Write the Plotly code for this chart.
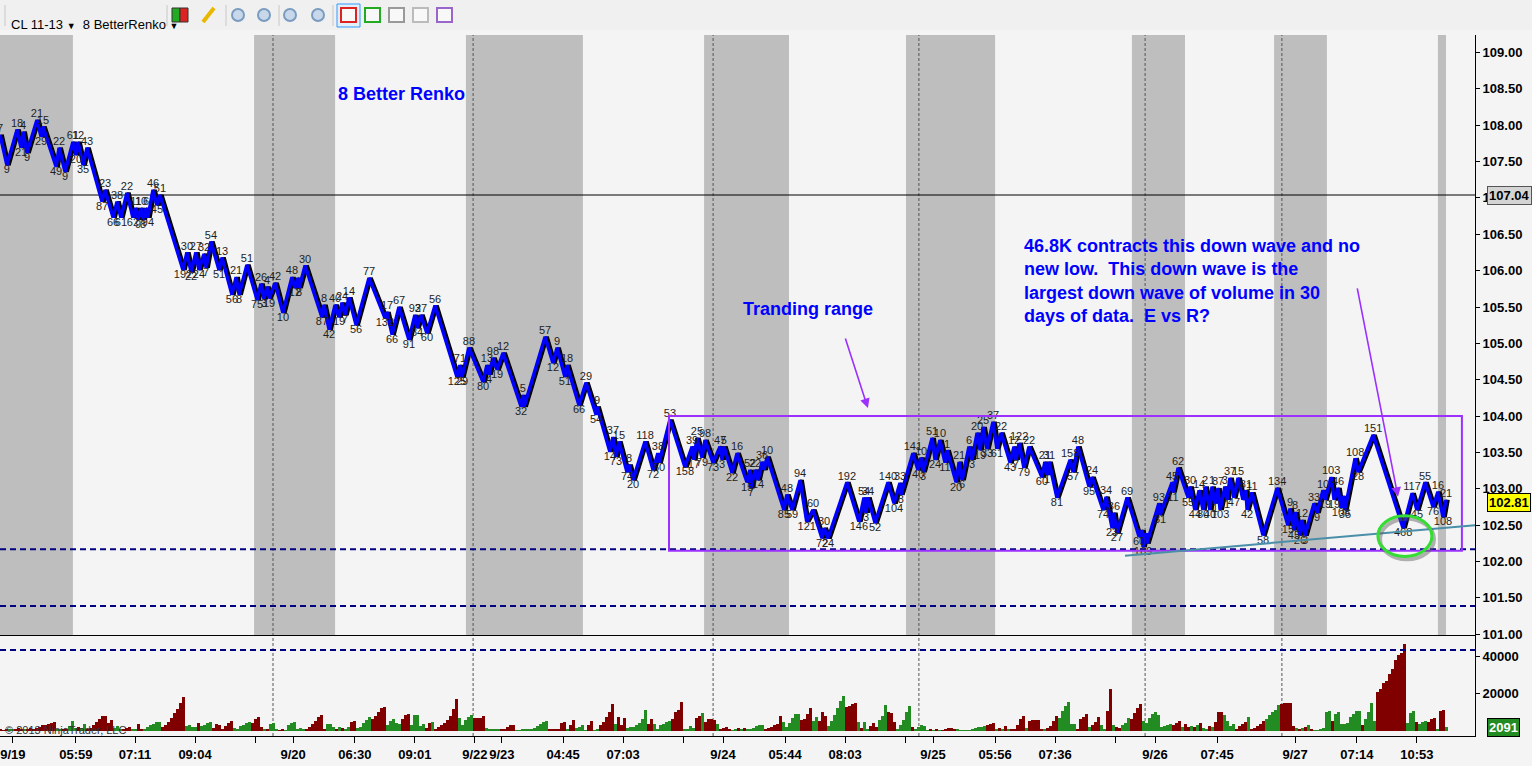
import plotly.graph_objects as go
from plotly.subplots import make_subplots

# CL 11-13, 8 tick BetterRenko - swing pivots of the brick line (bar index, price, wave label)
piv_bar = [0.0, 2.3, 5.7, 7.0, 7.7, 9.0, 12.3, 13.7, 14.3, 18.7, 19.7, 21.7, 24.3, 25.3, 26.0, 27.7, 29.0,
           34.0, 35.0, 37.7, 39.0, 40.3, 42.3, 44.3, 45.3, 46.0, 47.0, 47.7, 48.7, 49.3, 51.0, 52.3, 53.3,
           61.0, 62.3, 63.7, 65.3, 66.3, 68.0, 68.7, 70.3, 73.0, 74.0, 77.3, 78.7, 79.7, 82.3, 85.7, 87.0,
           88.0, 89.0, 89.7, 91.7, 94.3, 97.3, 98.3, 99.3, 99.7, 101.7, 107.3, 108.0, 109.7, 111.7, 113.0,
           114.0, 115.0, 116.3, 118.7, 123.0, 128.3, 129.0, 130.7, 133.0, 136.3, 138.3, 139.0, 140.3, 142.3,
           145.0, 152.3, 153.3, 154.0, 156.3, 161.0, 162.3, 163.0, 164.3, 165.7, 167.7, 173.7, 174.3, 174.7,
           181.7, 184.3, 185.7, 188.3, 189.0, 193.0, 195.3, 198.7, 199.0, 203.3, 204.3, 205.3, 206.3, 209.0,
           209.7, 211.0, 215.0, 217.7, 219.3, 219.7, 223.3, 228.3, 230.7, 231.3, 232.3, 234.0, 235.0, 237.7,
           240.0, 240.7, 241.3, 244.0, 245.7, 249.0, 250.0, 250.3, 251.7, 252.7, 254.0, 254.7, 255.7, 261.3,
           262.3, 264.0, 266.7, 268.9, 271.0, 274.0, 274.7, 276.0, 282.3, 286.3, 288.0, 288.7, 289.3, 291.7,
           296.0, 298.0, 300.0, 300.3, 304.3, 306.0, 307.0, 307.7, 310.7, 311.7, 313.3, 315.0, 315.7, 318.7,
           319.7, 320.7, 323.0, 324.0, 325.7, 326.7, 327.7, 329.0, 331.0, 332.3, 333.7, 336.7, 338.0, 338.7,
           339.7, 341.3, 343.0, 347.3, 348.3, 349.0, 349.7, 352.3, 356.7, 357.7, 359.3, 363.0, 364.0, 367.7,
           368.7, 370.7, 371.3, 372.3, 375.7, 379.7, 380.7, 381.0, 382.0, 382.3, 386.3, 386.7, 390.7, 391.0,
           392.7, 396.0, 396.7, 398.3, 399.7, 401.0, 401.7, 403.3, 404.0, 405.0, 406.0, 406.7, 408.3, 409.0,
           410.0, 411.3, 412.7, 414.3, 415.3, 415.7, 417.3, 421.0, 425.7, 429.3, 430.0, 431.3, 431.7, 433.3,
           434.0, 435.0, 438.0, 439.0, 441.0, 441.7, 443.7, 444.7, 446.0, 447.0, 447.7, 448.3, 451.7, 452.7,
           457.7, 467.7, 470.7, 472.3, 475.0, 477.7, 479.3, 481.0, 482.0]
piv_price = [107.87, 107.45, 107.94, 107.69, 107.91, 107.62, 108.07, 107.84, 107.98, 107.43, 107.69, 107.36,
             107.77, 107.59, 107.77, 107.45, 107.69, 106.95, 107.11, 106.73, 106.95, 106.73, 107.07, 106.73,
             106.86, 106.70, 106.86, 106.70, 106.86, 106.73, 107.11, 106.90, 107.04, 106.01, 106.25, 105.98,
             106.25, 106.01, 106.23, 106.04, 106.40, 106.01, 106.18, 105.67, 105.91, 105.67, 106.08, 105.60,
             105.82, 105.61, 105.78, 105.62, 105.83, 105.42, 105.91, 105.76, 105.90, 105.76, 106.07, 105.36,
             105.53, 105.19, 105.53, 105.36, 105.56, 105.39, 105.63, 105.25, 105.90, 105.35, 105.43, 105.12,
             105.50, 105.05, 105.39, 105.21, 105.39, 105.14, 105.52, 104.54, 104.70, 104.54, 104.94, 104.47,
             104.70, 104.57, 104.80, 104.64, 104.87, 104.13, 104.29, 104.13, 105.09, 104.73, 104.94, 104.54,
             104.70, 104.15, 104.46, 104.02, 104.13, 103.51, 103.71, 103.44, 103.65, 103.23, 103.33, 103.12,
             103.65, 103.26, 103.49, 103.36, 103.95, 103.30, 103.58, 103.40, 103.70, 103.43, 103.67, 103.36,
             103.58, 103.40, 103.58, 103.22, 103.49, 103.09, 103.26, 103.01, 103.26, 103.12, 103.37, 103.26,
             103.44, 102.71, 102.92, 102.71, 103.12, 102.55, 102.71, 102.32, 102.46, 102.32, 103.09, 102.55,
             102.88, 102.67, 102.88, 102.53, 103.09, 102.80, 103.08, 102.92, 103.49, 103.26, 103.43, 103.23,
             103.70, 103.40, 103.67, 103.36, 103.53, 103.09, 103.37, 103.12, 103.58, 103.40, 103.77, 103.53,
             103.85, 103.55, 103.92, 103.55, 103.77, 103.36, 103.58, 103.40, 103.63, 103.29, 103.58, 103.16,
             103.37, 103.19, 103.37, 102.88, 103.40, 103.23, 103.58, 103.03, 103.16, 102.71, 102.89, 102.46,
             102.67, 102.39, 102.88, 102.34, 102.43, 102.20, 102.39, 102.25, 102.80, 102.64, 103.09, 102.95,
             103.29, 102.88, 103.03, 102.71, 102.98, 102.71, 103.03, 102.71, 103.03, 102.80, 103.01, 102.71,
             103.03, 102.85, 103.15, 102.88, 103.15, 102.85, 102.98, 102.71, 102.95, 102.36, 103.01, 102.50,
             102.73, 102.43, 102.68, 102.36, 102.57, 102.36, 102.80, 102.67, 102.98, 102.85, 103.16, 102.85,
             103.01, 102.74, 102.90, 102.71, 103.42, 103.23, 103.74, 102.46, 102.94, 102.71, 103.09, 102.75,
             102.96, 102.61, 102.85]
piv_label = ["7", "9", "18", "21", "4", "9", "21", "29", "15", "49", "22", "9", "61", "20", "12", "35", "43",
             "87", "23", "66", "38", "61", "22", "62", "11", "9", "10", "8", "6", "94", "46", "45", "51",
             "192", "30", "22", "27", "24", "32", "7", "54", "51", "13", "56", "21", "8", "51", "75", "26",
             "3", "4", "19", "42", "10", "48", "12", "", "8", "30", "87", "8", "42", "40", "19",
             "24", "7", "14", "56", "77", "132", "17", "66", "67", "91", "92", "84", "37", "60",
             "56", "125", "71", "29", "88", "80", "13", "4", "98", "19", "12", "32", "5", "",
             "57", "12", "9", "51", "18", "66", "29", "54", "9", "14", "37", "73", "15", "74",
             "8", "20", "118", "72", "38", "50", "53", "158", "39", "17", "25", "79", "98", "73",
             "47", "3", "5", "22", "16", "15", "52", "7", "22", "14", "36", "", "10", "85",
             "48", "59", "94", "121", "60", "72", "30", "24", "192", "146", "54", "3", "34", "52",
             "140", "104", "33", "8", "141", "40", "10", "3", "51", "24", "10", "11", "1", "20",
             "21", "6", "6", "3", "20", "19", "25", "33", "37", "61", "22", "43", "12", "7",
             "122", "79", "22", "60", "21", "1", "31", "81", "158", "57", "48", "95", "24", "74",
             "34", "23", "36", "27", "69", "60", "", "169", "", "", "93", "31", "45", "11",
             "62", "55", "30", "44", "14", "80", "2", "40", "1", "1", "87", "103", "3", "1",
             "37", "47", "15", "", "81", "42", "11", "58", "134", "15", "9", "45", "8", "26",
             "12", "3", "33", "9", "10", "19", "103", "19", "46", "108", "", "35", "108", "28",
             "151", "468", "117", "45", "55", "76", "16", "108", "21"]
last_price = 102.81
ref_line_price = 107.04
support_lines = [102.17, 101.39]
range_box = [223.0, 487.3, 102.15, 104.0]   # bar from, bar to, low, high
trend_from = [375.0, 102.08]
trend_to = [491.7, 102.50]
circle_box = [459.3, 477.3, 102.07, 102.63]

# Weis wave volume per bar, thousands of contracts; u = up wave, d = down wave
vol_k = [1.0, 0.5, 1.2, 0.8, 0.6, 1.0, 1.5, 1.2, 0.7, 1.0,
         1.4, 1.2, 1.8, 2.4, 3.0, 3.5, 4.0, 4.5, 4.8, 1.0,
         0.6, 1.2, 0.8, 2.5, 5.4, 1.5, 2.0, 1.5, 3.8, 1.0,
         1.5, 3.2, 4.8, 6.5, 8.0, 8.0, 4.5, 6.0, 1.5, 2.5,
         1.0, 0.6, 1.5, 2.2, 1.0, 0.6, 3.8, 1.0, 1.2, 2.0,
         3.0, 4.0, 4.7, 4.7, 2.0, 3.0, 5.0, 7.0, 9.5, 12.0,
         15.0, 18.5, 2.5, 3.0, 2.2, 2.0, 4.5, 2.5, 3.0, 4.5,
         5.0, 1.5, 4.0, 3.0, 1.0, 2.5, 4.5, 5.5, 1.5, 1.0,
         2.5, 3.5, 4.5, 5.0, 4.5, 6.5, 7.5, 2.0, 1.0, 0.6,
         4.0, 4.5, 1.0, 0.5, 0.8, 0.5, 3.5, 4.5, 5.0, 1.0,
         1.5, 0.6, 1.0, 2.0, 4.0, 5.5, 7.5, 8.5, 0.6, 3.8,
         3.8, 2.0, 1.0, 2.0, 1.5, 1.0, 2.0, 5.0, 5.5, 1.5,
         2.0, 4.5, 6.0, 7.5, 6.5, 8.0, 10.5, 12.5, 13.0, 3.0,
         5.5, 6.5, 4.5, 4.0, 6.5, 8.5, 9.0, 3.0, 8.5, 8.5,
         2.5, 4.0, 1.5, 4.5, 5.0, 1.0, 2.0, 3.5, 4.5, 6.0,
         8.0, 12.0, 17.0, 7.0, 3.0, 6.0, 7.5, 8.5, 7.0, 7.0,
         7.0, 8.0, 1.5, 1.0, 1.0, 1.0, 1.0, 0.6, 1.0, 2.0,
         3.2, 3.2, 0.5, 0.5, 0.6, 0.6, 1.0, 1.2, 1.6, 2.7,
         3.8, 4.9, 5.4, 0.8, 1.2, 1.0, 1.0, 4.5, 5.0, 1.0,
         3.0, 6.0, 1.5, 2.0, 3.0, 0.5, 3.0, 5.5, 0.5, 0.8,
         3.0, 5.0, 7.5, 10.0, 14.5, 4.0, 7.5, 3.0, 7.0, 1.5,
         2.0, 2.0, 3.0, 4.5, 6.5, 11.5, 4.0, 6.5, 4.0, 1.0,
         3.0, 4.0, 5.0, 5.5, 6.5, 10.0, 11.5, 15.5, 1.0, 1.1,
         2.7, 1.6, 7.0, 8.0, 9.7, 4.9, 6.5, 6.5, 6.0, 3.8,
         1.1, 1.6, 2.2, 1.0, 0.5, 1.1, 1.6, 1.1, 1.6, 1.1,
         0.8, 1.6, 2.7, 3.2, 3.2, 1.0, 1.6, 2.2, 3.2, 3.8,
         8.1, 4.9, 2.0, 4.3, 7.0, 9.2, 9.2, 5.9, 6.5, 9.2,
         12.4, 5.4, 7.6, 5.4, 10.3, 8.1, 2.7, 5.4, 8.6, 12.4,
         16.2, 18.9, 13.0, 13.5, 14.6, 15.1, 4.9, 1.6, 4.9, 1.0,
         2.7, 4.3, 2.0, 5.9, 8.1, 14.0, 10.3, 9.7, 5.0, 1.1,
         3.0, 5.9, 10.3, 13.5, 2.2, 1.1, 2.2, 3.2, 2.7, 0.5,
         1.1, 0.5, 1.1, 0.5, 0.5, 1.1, 1.6, 1.6, 1.2, 1.1,
         0.5, 0.5, 0.5, 0.5, 1.1, 1.6, 2.2, 2.2, 2.7, 3.2,
         3.8, 4.3, 1.0, 1.6, 1.0, 2.7, 1.1, 1.0, 0.8, 3.2,
         6.5, 8.1, 1.6, 5.4, 5.9, 5.9, 5.9, 1.0, 1.0, 1.6,
         2.7, 5.4, 8.1, 7.0, 10.8, 13.5, 15.7, 3.8, 3.8, 1.0,
         6.5, 7.6, 9.2, 2.2, 3.2, 4.9, 7.6, 3.2, 1.0, 10.8,
         22.7, 3.2, 2.2, 1.5, 3.2, 4.3, 7.0, 6.5, 9.7, 12.4,
         14.6, 5.4, 4.3, 7.0, 9.2, 10.3, 8.6, 2.2, 2.7, 3.2,
         3.8, 3.2, 4.3, 5.4, 2.2, 3.8, 2.0, 2.7, 2.2, 3.2,
         4.3, 1.6, 1.1, 2.7, 2.2, 4.9, 10.3, 10.3, 8.6, 5.4,
         2.7, 3.8, 1.0, 2.7, 3.8, 4.9, 7.6, 1.0, 1.6, 2.7,
         3.8, 5.4, 6.5, 8.6, 10.3, 11.3, 14.0, 14.6, 15.1, 15.1,
         15.1, 2.7, 1.6, 1.1, 1.6, 2.2, 3.2, 1.1, 0.5, 0.5,
         1.0, 1.5, 10.3, 10.8, 5.4, 9.2, 10.3, 3.8, 3.8, 4.3,
         7.6, 9.2, 10.8, 10.8, 3.2, 6.5, 10.0, 15.1, 5.4, 21.1,
         22.7, 25.9, 27.0, 30.8, 33.5, 38.3, 41.0, 42.0, 46.8, 4.3,
         9.7, 10.8, 4.9, 3.8, 4.9, 5.4, 4.9, 6.5, 7.0, 1.0,
         10.8, 11.3, 2.091]
vol_side = ("ddduudddud" "dddddddddu" "udduuuduud" "dddddddduu" "uddduudduu"
            "uuuudddddd" "dduuuuduuu" "uddddddduu" "uuuuddddud" "uuudduuuuu"
            "uudddddddu" "uududuuddu" "uuuudddddu" "uuuuddduuu" "uudduddddd"
            "ddduuuuudd" "dduuuuuddd" "dduuuuuuuu" "uuuddddddu" "dduuuudduu"
            "dddddudddu" "uuuuuudduu" "uuuudddduu" "uudduddddu" "dddduududu"
            "uuuuuddddd" "duuuuuuddd" "duuddduuuu" "uudddduduu" "ddduuudddu"
            "uuuuduuuuu" "dududddddu" "uuuuuuuuud" "ddudududdd" "ddudddddud"
            "ddduuuuuud" "ddduddduud" "dudduuuddd" "duuuuuuuuu" "uddduddudu"
            "duududdduu" "uudddduddd" "dduuuuuddd" "ddudududuu" "uuuuduuuuu"
            "uuuuduuuud" "dddddddddu" "uuduuudddu" "ddu")
vol_ref = 43.7

# sessions (bar index) and day breaks
sess_start = [-1.0, 84.7, 155.3, 234.7, 302.0, 377.3, 424.7, 479.3]
sess_end = [24.3, 111.7, 194.3, 263.0, 331.7, 395.0, 442.3, 482.0]
day_breaks = [91.0, 157.7, 237.7, 306.3, 381.7, 427.3]

tick_bars = [4.3, 25.3, 45.0, 65.0, 85.0, 97.7, 118.3, 138.3, 158.3, 167.3, 187.7, 207.7, 227.7,
             241.0, 261.7, 281.7, 301.7, 311.0, 331.7, 351.7, 371.7, 385.0, 405.7, 431.7, 452.3, 472.3]
tick_text = ["9/19", "05:59", "07:11", "09:04", "", "9/20", "06:30", "09:01", "9/22", "9/23", "04:45",
             "07:03", "", "9/24", "05:44", "08:03", "", "9/25", "05:56", "07:36", "", "9/26", "07:45",
             "9/27", "07:14", "10:53"]

FONT = "Liberation Sans, Arial"
BLUE = "#0000FF"
PURPLE = "#9B30FF"
W, H = 1532, 766
ML, MR, MT, MB = 0, 57, 35, 30
PW, PH = W - ML - MR, H - MT - MB


def px_x(px):
    return (px - ML) / PW


def px_y(py):
    return (H - MB - py) / PH


fig = make_subplots(rows=2, cols=1, shared_xaxes=True, vertical_spacing=0,
                    row_heights=[600 / 701, 101 / 701])

# price line: renko bricks drawn as a blue line with a black edge on the right
fig.add_trace(go.Scatter(x=[b + 0.6 for b in piv_bar], y=piv_price, mode="lines",
                         line=dict(color="black", width=4), hoverinfo="skip", showlegend=False), row=1, col=1)
fig.add_trace(go.Scatter(x=piv_bar, y=piv_price, mode="lines", line=dict(color=BLUE, width=3.5),
                         showlegend=False), row=1, col=1)

pos = []
for i, p in enumerate(piv_price):
    prev = piv_price[i - 1] if i > 0 else p - 1
    nxt = piv_price[i + 1] if i < len(piv_price) - 1 else p - 1
    pos.append("top center" if p >= prev and p >= nxt else "bottom center")
fig.add_trace(go.Scatter(x=piv_bar, y=piv_price, mode="text", text=piv_label, textposition=pos,
                         textfont=dict(family=FONT, size=11, color="#1e1e1e"), showlegend=False,
                         hoverinfo="skip"), row=1, col=1)

# volume
vol = [v * 1000 for v in vol_k]
colors = ["#228B22" if s == "u" else "#800000" for s in vol_side]
fig.add_trace(go.Bar(x=list(range(len(vol))), y=vol, marker=dict(color=colors, line=dict(width=0)),
                     width=1.0, showlegend=False), row=2, col=1)

shapes = []
for a, b in zip(sess_start, sess_end):
    shapes.append(dict(type="rect", xref="x", yref="y domain", x0=a, x1=b, y0=0, y1=1,
                       fillcolor="#BEBEBE", line=dict(width=0), layer="below"))
for d in day_breaks:
    shapes.append(dict(type="line", xref="x", yref="paper", x0=d, x1=d, y0=0, y1=1,
                       line=dict(color="#555555", width=1, dash="3px,2px"), layer="below"))
shapes.append(dict(type="line", xref="paper", yref="y", x0=0, x1=1, y0=ref_line_price, y1=ref_line_price,
                   line=dict(color="black", width=1), layer="below"))
for s in support_lines:
    shapes.append(dict(type="line", xref="paper", yref="y", x0=0, x1=1, y0=s, y1=s,
                       line=dict(color="#000080", width=2, dash="6px,4px")))
shapes.append(dict(type="line", xref="paper", yref="y2", x0=0, x1=1, y0=vol_ref * 1000, y1=vol_ref * 1000,
                   line=dict(color="#000080", width=2, dash="6px,4px")))
shapes.append(dict(type="rect", xref="x", yref="y", x0=range_box[0], x1=range_box[1], y0=range_box[2],
                   y1=range_box[3], line=dict(color=PURPLE, width=2)))
shapes.append(dict(type="line", xref="x", yref="y", x0=trend_from[0], y0=trend_from[1], x1=trend_to[0],
                   y1=trend_to[1], line=dict(color="#4A8FA8", width=2)))
shapes.append(dict(type="circle", xref="x", yref="y", x0=circle_box[0] + 0.7, x1=circle_box[1] + 0.7,
                   y0=circle_box[2] - 0.04, y1=circle_box[3] - 0.04, line=dict(color="rgba(90,90,90,0.45)", width=4)))
shapes.append(dict(type="circle", xref="x", yref="y", x0=circle_box[0], x1=circle_box[1],
                   y0=circle_box[2], y1=circle_box[3], line=dict(color="#33DD33", width=3)))

# toolbar decoration
shapes.append(dict(type="rect", xref="paper", yref="paper", x0=px_x(0), x1=px_x(W), y0=px_y(30), y1=px_y(0),
                   fillcolor="#F0F0F0", line=dict(width=0), layer="below"))
shapes.append(dict(type="rect", xref="paper", yref="paper", x0=px_x(172), x1=px_x(180), y0=px_y(22), y1=px_y(8),
                   fillcolor="#22AA22", line=dict(color="#333", width=1)))
shapes.append(dict(type="rect", xref="paper", yref="paper", x0=px_x(180), x1=px_x(188), y0=px_y(22), y1=px_y(8),
                   fillcolor="#DD2222", line=dict(color="#333", width=1)))
shapes.append(dict(type="line", xref="paper", yref="paper", x0=px_x(203), x1=px_x(214), y0=px_y(22), y1=px_y(8),
                   line=dict(color="#E8B800", width=4)))
for cx in [238, 264, 290, 318]:
    shapes.append(dict(type="circle", xref="paper", yref="paper", x0=px_x(cx - 6), x1=px_x(cx + 6),
                       y0=px_y(21), y1=px_y(9), line=dict(color="#7A9CC0", width=2), fillcolor="#C8D8EA"))
shapes.append(dict(type="rect", xref="paper", yref="paper", x0=px_x(337), x1=px_x(360), y0=px_y(27), y1=px_y(4),
                   fillcolor="#E2EEFA", line=dict(color="#3399FF", width=1)))
for x0, col in [(341, "#DD2222"), (365, "#22AA22"), (389, "#999999"), (413, "#BBBBBB"), (437, "#9966CC")]:
    shapes.append(dict(type="rect", xref="paper", yref="paper", x0=px_x(x0), x1=px_x(x0 + 15), y0=px_y(22),
                       y1=px_y(8), fillcolor="#F8F8F8", line=dict(color=col, width=2)))
for sx in [5, 167, 226, 279, 333]:
    shapes.append(dict(type="line", xref="paper", yref="paper", x0=px_x(sx), x1=px_x(sx), y0=px_y(26), y1=px_y(5),
                       line=dict(color="#C8C8C8", width=1)))

annotations = [
    dict(x=112, y=108.43, xref="x", yref="y", text="<b>8 Better Renko</b>", showarrow=False, xanchor="left",
         font=dict(family=FONT, size=18, color=BLUE)),
    dict(x=247, y=105.47, xref="x", yref="y", text="<b>Tranding range</b>", showarrow=False, xanchor="left",
         font=dict(family=FONT, size=18, color=BLUE)),
    dict(x=340.7, y=106.50, xref="x", yref="y", xanchor="left", yanchor="top", align="left", showarrow=False,
         text="<b>46.8K contracts this down wave and no<br>new low.  This down wave is the<br>"
              "largest down wave of volume in 30<br>days of data.  E vs R?</b>",
         font=dict(family=FONT, size=18, color=BLUE)),
    dict(x=289.3, y=104.11, xref="x", yref="y", ax=-23, ay=-71, text="", showarrow=True, arrowhead=2,
         arrowsize=1.2, arrowwidth=1.6, arrowcolor=PURPLE),
    dict(x=466.0, y=102.89, xref="x", yref="y", ax=-41, ay=-210, text="", showarrow=True, arrowhead=2,
         arrowsize=1.2, arrowwidth=1.6, arrowcolor=PURPLE),
    dict(x=px_x(1487), y=ref_line_price, xref="paper", yref="y", xanchor="left", showarrow=False,
         text="<b>%.2f</b>" % ref_line_price, bgcolor="#D4D4D4", bordercolor="#555", borderwidth=1,
         font=dict(family=FONT, size=13, color="black")),
    dict(x=px_x(1487), y=last_price, xref="paper", yref="y", xanchor="left", showarrow=False,
         text="<b>%.2f</b>" % last_price, bgcolor="#FFFF00", bordercolor="black", borderwidth=1,
         font=dict(family=FONT, size=13, color="black")),
    dict(x=px_x(1487), y=vol_k[-1] * 1000, xref="paper", yref="y2", xanchor="left", showarrow=False,
         text="<b>%d</b>" % round(vol_k[-1] * 1000), bgcolor="#228B22", bordercolor="black", borderwidth=1,
         font=dict(family=FONT, size=13, color="white")),
    dict(x=px_x(3), y=800, xref="paper", yref="y2", xanchor="left", yanchor="middle", showarrow=False,
         text="© 2013 NinjaTrader, LLC", font=dict(family=FONT, size=11, color="#333333")),
    dict(x=px_x(9), y=px_y(15), xref="paper", yref="paper", xanchor="left", showarrow=False,
         text="CL 11-13 <span style='font-size:9px'>▼</span>  8 BetterRenko <span style='font-size:9px'>▼</span>",
         font=dict(family=FONT, size=13, color="black")),
]

tickfont = dict(family=FONT, size=13, color="black", weight="bold")
fig.update_layout(
    width=W, height=H,
    margin=dict(l=ML, r=MR, t=MT, b=MB),
    paper_bgcolor="#F4F4F4", plot_bgcolor="#F4F4F4",
    showlegend=False, bargap=0,
    shapes=shapes, annotations=annotations,
    xaxis=dict(range=[0, PW / 3], showgrid=False, zeroline=False, showticklabels=False, ticks="",
               showline=True, linecolor="black", linewidth=1),
    xaxis2=dict(range=[0, PW / 3], showgrid=False, zeroline=False, tickmode="array", tickvals=tick_bars,
                ticktext=tick_text, tickangle=0, ticks="outside", ticklen=6, tickcolor="black",
                tickfont=tickfont, showline=True, linecolor="black", linewidth=1),
    yaxis=dict(range=[100.99, 109.24], side="right", showgrid=False, zeroline=False, tickmode="linear",
               tick0=101.5, dtick=0.5, tickformat=".2f", ticks="outside", ticklen=4, tickcolor="black",
               tickfont=tickfont, showline=True, linecolor="black", linewidth=1),
    yaxis2=dict(range=[-2700, 51800], side="right", showgrid=False, zeroline=False, tickmode="array",
                tickvals=[20000, 40000], ticktext=["20000", "40000"], ticks="outside", ticklen=4,
                tickcolor="black", tickfont=tickfont, showline=True, linecolor="black", linewidth=1),
)

fig.write_html("out.html", config={"displayModeBar": False},
               post_script="document.body.style.margin='0';document.body.style.overflow='hidden';")
